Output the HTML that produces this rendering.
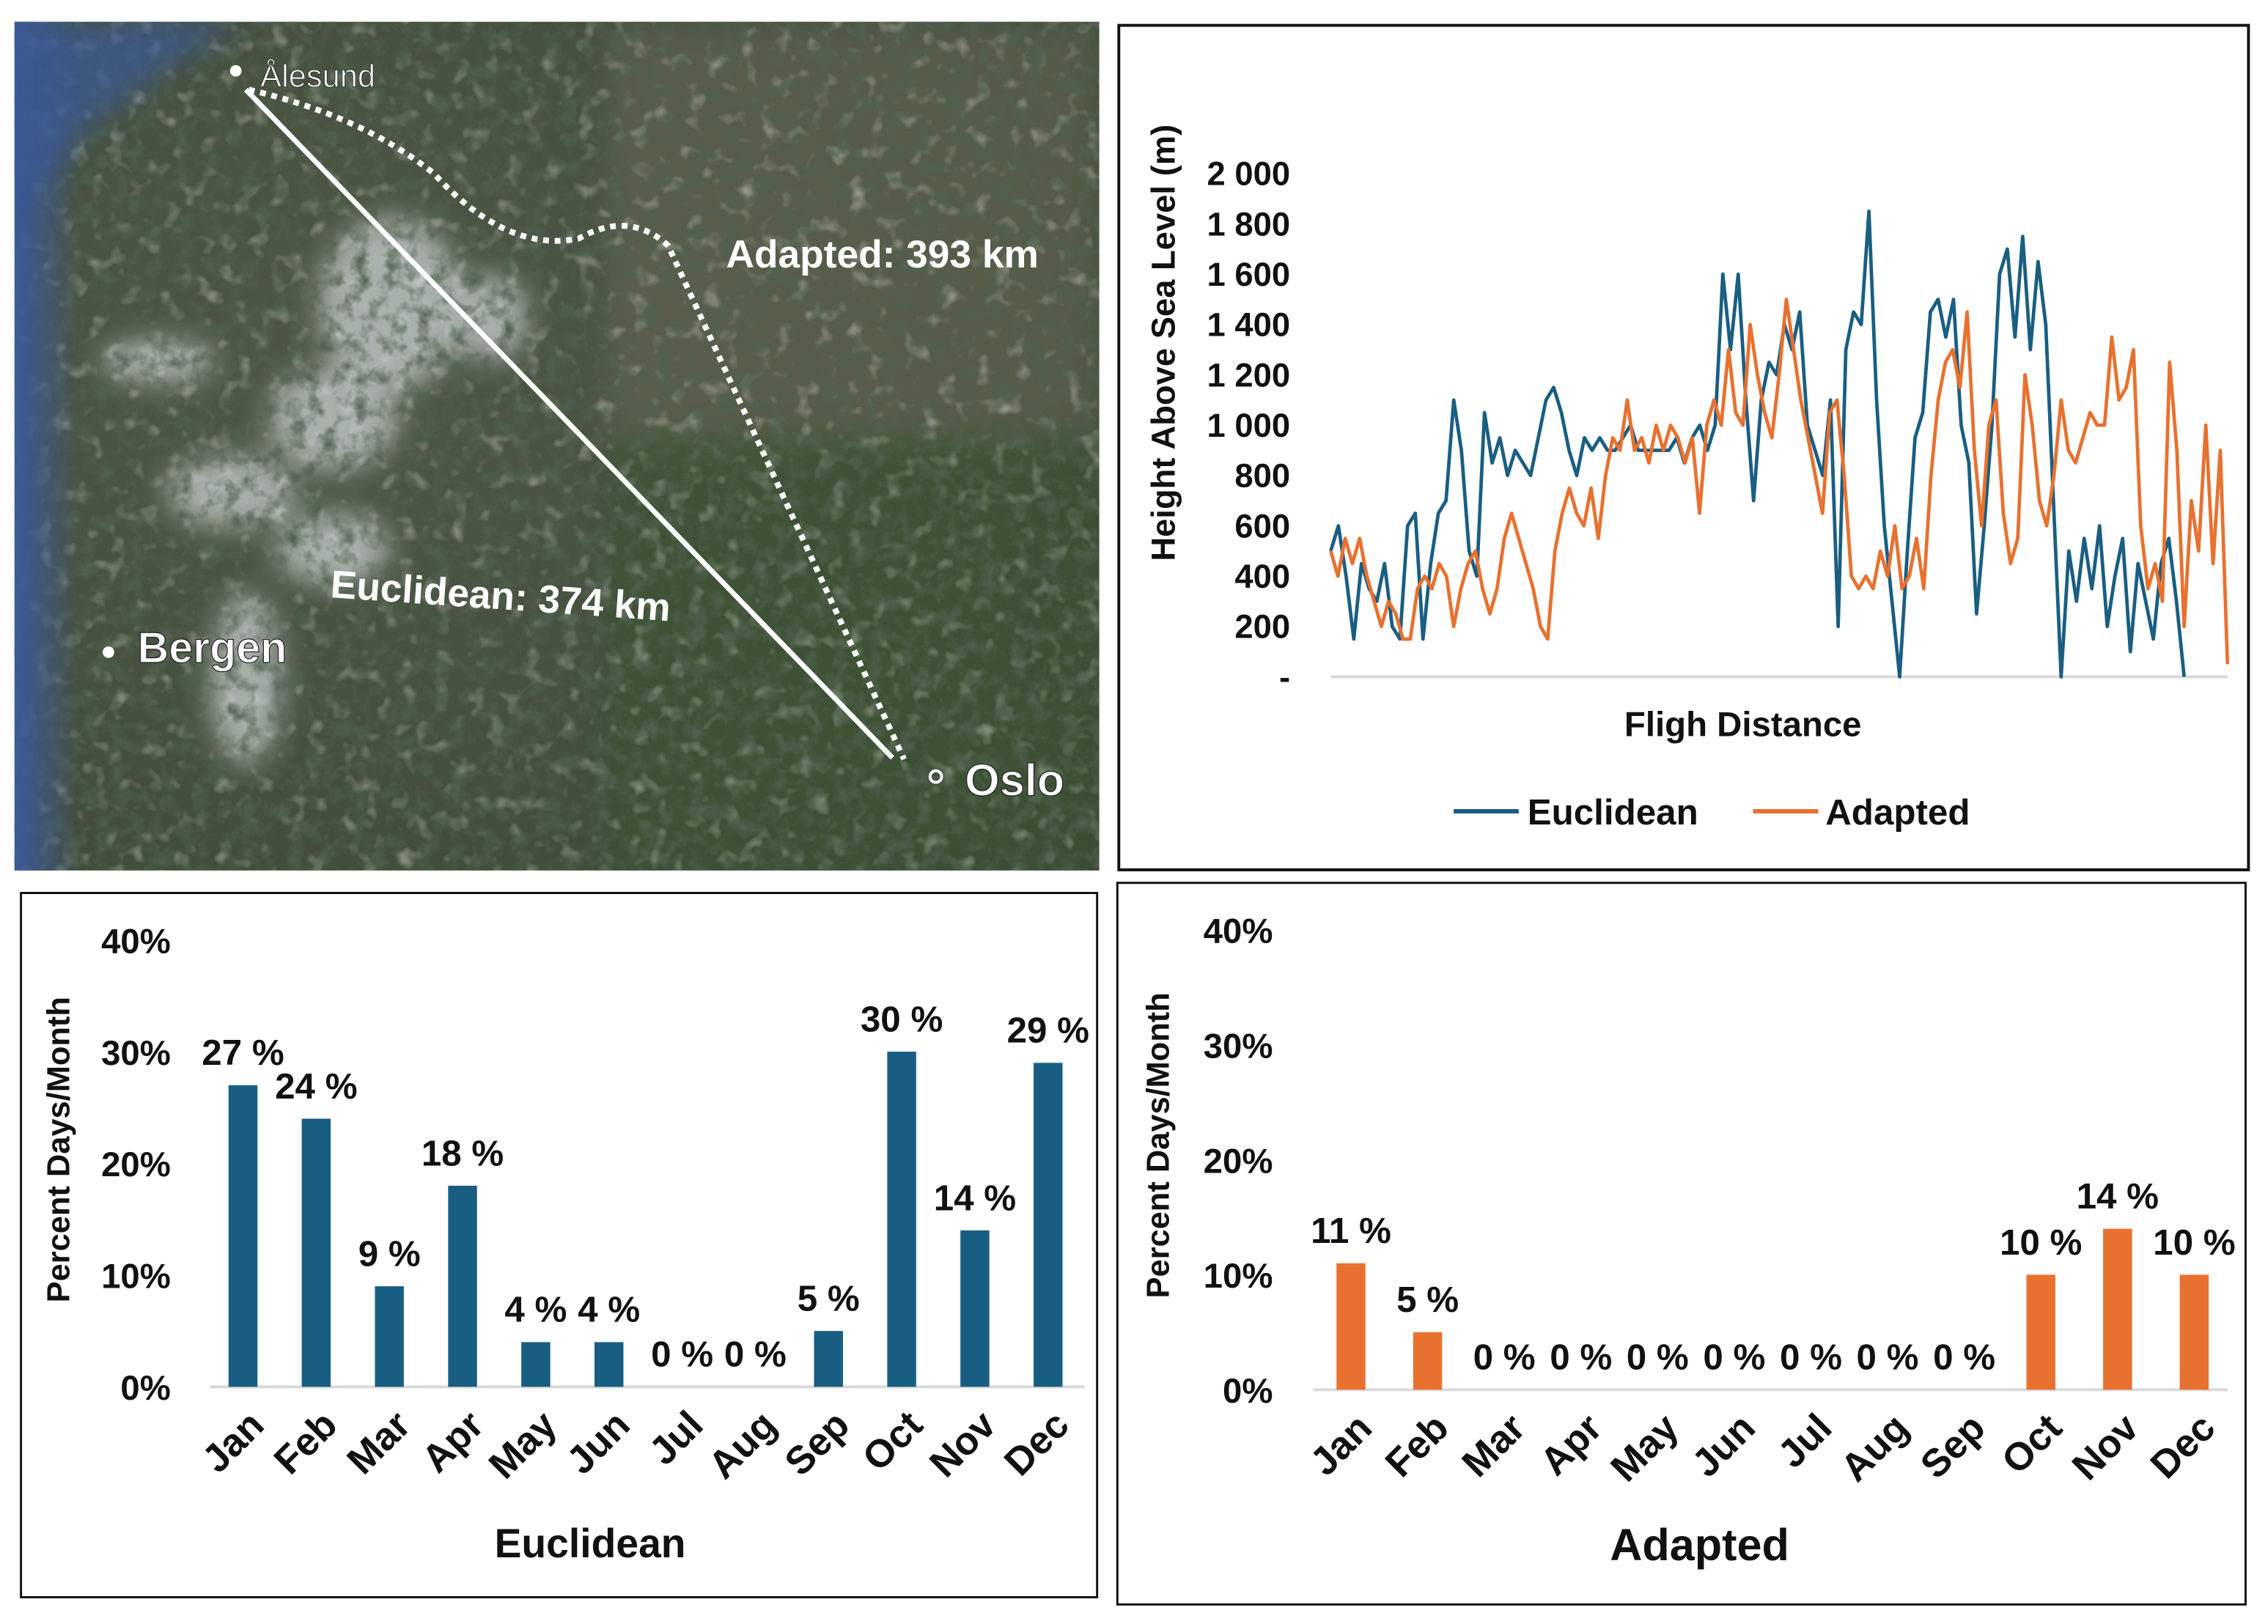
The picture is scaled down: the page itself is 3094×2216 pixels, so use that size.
<!DOCTYPE html>
<html><head><meta charset="utf-8">
<style>
html,body{margin:0;padding:0;background:#fff;}
svg{display:block;font-family:"Liberation Sans",Arial,sans-serif;}
</style></head>
<body>
<svg id="root" width="3094" height="2216" viewBox="0 0 1568 1123" xmlns="http://www.w3.org/2000/svg">
<defs>
  <linearGradient id="sea" x1="0" y1="0" x2="1" y2="0">
    <stop offset="0" stop-color="#3b5a9a"/><stop offset="1" stop-color="#3b5a9a" stop-opacity="0"/>
  </linearGradient>
  <radialGradient id="land" cx="0.3" cy="0.4" r="0.9">
    <stop offset="0" stop-color="#4e5746"/><stop offset="1" stop-color="#3c4a36"/>
  </radialGradient>
  <filter id="blur"><feGaussianBlur stdDeviation="10"/></filter>
  <filter id="tex" x="0" y="0" width="100%" height="100%">
    <feTurbulence type="fractalNoise" baseFrequency="0.09" numOctaves="3" seed="4"/>
    <feColorMatrix values="0 0 0 0 0.08  0 0 0 0 0.12  0 0 0 0 0.08  0 0 0 -2.2 1.25"/>
  </filter>
  <filter id="tex2" x="0" y="0" width="100%" height="100%">
    <feTurbulence type="fractalNoise" baseFrequency="0.08" numOctaves="2" seed="11"/>
    <feColorMatrix values="0 0 0 0 0.85  0 0 0 0 0.85  0 0 0 0 0.8  0 0 0 2.4 -1.35"/>
  </filter>
  <clipPath id="mapclip"><rect x="10" y="15" width="750" height="587"/></clipPath>
</defs>

<!-- MAP -->
<g clip-path="url(#mapclip)">
  <rect x="10" y="15" width="750" height="587" fill="url(#land)"/>
  <rect x="420" y="15" width="340" height="300" fill="#6a6a56" opacity="0.5" filter="url(#blur)"/>
  <rect x="420" y="300" width="340" height="302" fill="#3a5232" opacity="0.6" filter="url(#blur)"/>
  <rect x="10" y="15" width="750" height="587" filter="url(#tex2)" opacity="0.5"/>
  <g filter="url(#blur)" fill="#e8eef0" opacity="0.6">
    <ellipse cx="270" cy="210" rx="50" ry="60"/>
    <ellipse cx="230" cy="290" rx="45" ry="35"/>
    <ellipse cx="160" cy="340" rx="45" ry="25"/>
    <ellipse cx="230" cy="380" rx="40" ry="25"/>
    <ellipse cx="170" cy="470" rx="25" ry="60"/>
    <ellipse cx="110" cy="250" rx="40" ry="15"/>
    <ellipse cx="340" cy="220" rx="25" ry="30"/>
  </g>
  <rect x="10" y="15" width="750" height="587" filter="url(#tex)"/>
  <rect x="10" y="15" width="45" height="587" fill="url(#sea)"/>
  <path d="M10 15 L170 15 Q120 40 60 90 L10 150Z" fill="#3b5a9a" opacity="0.7" filter="url(#blur)"/>
  <line x1="170" y1="62" x2="617" y2="524" stroke="#fff" stroke-width="3.5"/>
  <path d="M172 62 Q250 80 300 120 Q350 175 400 165 Q435 145 462 170 Q540 340 625 525" fill="none" stroke="#fff" stroke-width="4" stroke-dasharray="4 4"/>
  <circle cx="163" cy="49" r="4" fill="#fff"/>
  <text x="180" y="60" font-size="22" fill="#fff" stroke="#333" stroke-width="0.5">Ålesund</text>
  <text x="502" y="185" font-size="27" font-weight="bold" fill="#fff">Adapted: 393 km</text>
  <text x="228" y="413" font-size="27" font-weight="bold" fill="#fff" transform="rotate(4 228 413)">Euclidean: 374 km</text>
  <circle cx="75" cy="451" r="4" fill="#fff"/>
  <text x="95" y="458" font-size="30" font-weight="bold" fill="#fff" stroke="#222" stroke-width="0.6">Bergen</text>
  <circle cx="647" cy="537" r="4" fill="none" stroke="#fff" stroke-width="2"/>
  <text x="667" y="550" font-size="31" font-weight="bold" fill="#fff" stroke="#222" stroke-width="0.6">Oslo</text>
</g>

<!-- LINE CHART -->
<g id="line">
  <rect x="773.5" y="17.5" width="781" height="584" fill="#fff" stroke="#111" stroke-width="2"/>
  <text transform="translate(812 237) rotate(-90)" text-anchor="middle" font-size="23" font-weight="bold" fill="#111">Height Above Sea Level (m)</text>
  <text x="1205" y="509" text-anchor="middle" font-size="24" font-weight="bold" fill="#111">Fligh Distance</text>
  <g>
    <line x1="1005" y1="561" x2="1050" y2="561" stroke="#1a5e82" stroke-width="3"/>
    <text x="1056" y="570" font-size="25" font-weight="bold" fill="#111">Euclidean</text>
    <line x1="1212" y1="561" x2="1257" y2="561" stroke="#e8712f" stroke-width="3"/>
    <text x="1262" y="570" font-size="25" font-weight="bold" fill="#111">Adapted</text>
  </g>
</g>

<!-- BAR CHARTS -->
<g id="barsL">
  <rect x="14.5" y="617.5" width="744" height="487" fill="#fff" stroke="#111" stroke-width="1.5"/>
  <text transform="translate(48 795) rotate(-90)" text-anchor="middle" font-size="22" font-weight="bold" fill="#111">Percent Days/Month</text>
  <text x="408" y="1077" text-anchor="middle" font-size="28" font-weight="bold" fill="#111">Euclidean</text>
</g>
<g id="barsR">
  <rect x="772.5" y="610.5" width="780" height="499" fill="#fff" stroke="#111" stroke-width="1.5"/>
  <text transform="translate(808 792) rotate(-90)" text-anchor="middle" font-size="22" font-weight="bold" fill="#111">Percent Days/Month</text>
  <text x="1175" y="1079" text-anchor="middle" font-size="31" font-weight="bold" fill="#111">Adapted</text>
</g>
</svg>

<script>
const NS = "http://www.w3.org/2000/svg";
// ---- line chart data ----
const yTicks = [0,200,400,600,800,1000,1200,1400,1600,1800,2000];
const yTickLabels = ["-","200","400","600","800","1 000","1 200","1 400","1 600","1 800","2 000"];
const euclideanHeights = [500,600,400,150,450,350,300,450,200,150,600,650,150,450,650,700,1100,900,500,400,1050,850,950,800,900,850,800,950,1100,1150,1050,900,800,950,900,950,900,900,950,1000,900,900,900,900,900,950,850,950,1000,900,1000,1600,1300,1600,1100,700,1100,1250,1200,1400,1300,1450,1000,900,800,1100,200,1300,1450,1400,1850,1100,600,300,0,500,950,1050,1450,1500,1350,1500,1000,850,250,600,1000,1600,1700,1350,1750,1300,1650,1400,700,0,500,300,550,350,600,200,400,550,100,450,300,150,450,550,300,0];
const adaptedHeights = [500,400,550,450,550,400,300,200,300,250,150,150,350,400,350,450,400,200,350,450,500,350,250,350,550,650,550,450,350,200,150,500,650,750,650,600,750,550,800,950,900,1100,900,950,850,1000,900,1000,950,850,950,650,1000,1100,1000,1300,1050,1000,1400,1200,1050,950,1200,1500,1300,1100,950,800,650,1050,1100,800,400,350,400,350,500,400,600,350,400,550,350,800,1100,1250,1300,1150,1450,900,600,1000,1100,650,450,550,1200,1000,700,600,800,1100,900,850,950,1050,1000,1000,1350,1100,1150,1300,600,350,450,300,1250,900,200,700,500,1000,450,900,50];
const euclideanKm = 374, adaptedKm = 393;

const LX0 = 920, LX1 = 1540, LY0 = 468, LY1 = 120, LMAX = 2000;
const ly = v => LY0 - (v / LMAX) * (LY0 - LY1);
const lx = km => LX0 + (km / adaptedKm) * (LX1 - LX0);

const line = document.getElementById('line');
function mk(tag, attrs, parent) {
  const e = document.createElementNS(NS, tag);
  for (const k in attrs) e.setAttribute(k, attrs[k]);
  parent.appendChild(e);
  return e;
}
const base = mk('line', {x1: LX0, x2: LX1, y1: ly(0), y2: ly(0), stroke: '#d9d9d9', 'stroke-width': 2}, line);


yTicks.forEach((t, i) => {
  const tx = mk('text', {x: 892, y: ly(t) + 8, 'text-anchor': 'end', 'font-size': 23, 'font-weight': 'bold', fill: '#111'}, line);
  
  
  tx.textContent = yTickLabels[i];
});
function series(vals, km, color, name) {
  const n = vals.length;
  const pts = vals.map((v, i) => lx(km * i / (n - 1)).toFixed(2) + ',' + ly(v).toFixed(2)).join(' ');
  const p = mk('polyline', {points: pts, fill: 'none', stroke: color, 'stroke-width': 2.4, 'stroke-linejoin': 'round'}, line);
  
  
}
series(euclideanHeights, euclideanKm, '#1a5e82', 'euclidean-series');
series(adaptedHeights, adaptedKm, '#e8712f', 'adapted-series');

// ---- bar chart data ----
const months = ["Jan","Feb","Mar","Apr","May","Jun","Jul","Aug","Sep","Oct","Nov","Dec"];
const euclideanPct = [27,24,9,18,4,4,0,0,5,30,14,29];
const adaptedPct = [11,5,0,0,0,0,0,0,0,10,14,10];
const pctTicks = [0,10,20,30,40];

function barChart(g, vals, cfg, color, prefix) {
  const y = v => cfg.y0 - (v / 40) * (cfg.y0 - cfg.y40);
  const cx = i => cfg.c0 + i * cfg.step;
  pctTicks.forEach(t => {
    const tx = mk('text', {x: cfg.tickX, y: y(t) + 9, 'text-anchor': 'end', 'font-size': 24, 'font-weight': 'bold', fill: '#111'}, g);
    
    
    tx.textContent = t + '%';
  });
  const ax = mk('line', {x1: cfg.ax0, x2: cfg.ax1, y1: cfg.y0, y2: cfg.y0, stroke: '#d9d9d9', 'stroke-width': 2}, g);
  
  
  vals.forEach((v, i) => {
    if (v > 0) {
      const r = mk('rect', {x: cx(i) - 10, y: y(v), width: 20, height: cfg.y0 - y(v), fill: color}, g);
      
      
    }
    const lb = mk('text', {x: cx(i), y: y(v) - 14, 'text-anchor': 'middle', 'font-size': 25, 'font-weight': 'bold', fill: '#111'}, g);
    
    
    lb.textContent = v + ' %';
    const ax2 = cx(i) + 16, ay = cfg.y0 + 28;
    const ml = mk('text', {x: ax2, y: ay, 'text-anchor': 'end', 'font-size': 27, 'font-weight': 'bold', fill: '#111', transform: 'rotate(-45 ' + ax2 + ' ' + ay + ')'}, g);
    
    
    ml.textContent = months[i];
  });
}
barChart(document.getElementById('barsL'), euclideanPct, {y0: 959, y40: 650, c0: 168, step: 50.6, tickX: 118, ax0: 145, ax1: 750}, '#175e82', 'euclidean');
barChart(document.getElementById('barsR'), adaptedPct, {y0: 961, y40: 643, c0: 934, step: 53, tickX: 880, ax0: 908, ax1: 1540}, '#e8712f', 'adapted');
</script>
</body></html>
